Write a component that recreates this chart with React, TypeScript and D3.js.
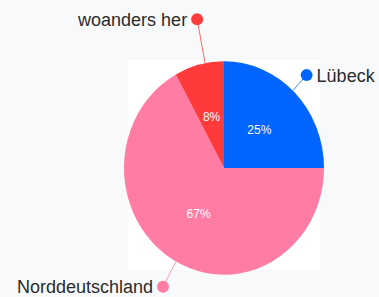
import { useEffect, useRef } from 'react';
import * as d3 from 'd3';

const labels = ['Lübeck', 'Norddeutschland', 'woanders her'];
const values = [25, 67, 8];
const colors = ['#0066ff', '#ff7ca4', '#ff3a3a'];

const App = () => {
  const ref = useRef<SVGSVGElement>(null);

  useEffect(() => {
    document.body.style.margin = '0';
    const svg = d3.select(ref.current);
    svg.selectAll('*').remove();

    const width = 379; const height = 297;
    const cx = 224; const cy = 168;
    const radius = 100; const stretch = 1.067; // picture is a bit taller than wide

    svg.append('rect').attr('width', width).attr('height', height).attr('fill', '#f8f9fa');
    svg.append('rect')
      .attr('x', 128).attr('y', 60)
      .attr('width', 192).attr('height', 210)
      .attr('fill', '#ffffff');

    const total = d3.sum(values);
    const pie = d3.pie<number>().sort(null).value(d => d);
    const arcs = pie(values);
    const arc = d3.arc<d3.PieArcDatum<number>>().innerRadius(0).outerRadius(radius);

    const g = svg.append('g')
      .attr('transform', `translate(${cx},${cy}) scale(1,${stretch})`);

    g.selectAll('path')
      .data(arcs)
      .enter()
      .append('path')
      .attr('d', arc)
      .attr('fill', (d, i) => colors[i]);

    // percentages, centred on each slice
    arcs.forEach((d, i) => {
      const [x, y] = arc.centroid(d);
      svg.append('text')
        .attr('x', cx + x)
        .attr('y', cy + y * stretch)
        .attr('dy', '0.35em')
        .attr('text-anchor', 'middle')
        .attr('font-family', 'Liberation Sans, Arial, sans-serif')
        .attr('font-size', 12)
        .attr('fill', '#ffffff')
        .text(Math.round((values[i] / total) * 100) + '%');
    });

    // outside labels: shift (deg) and radius for the dot
    const leader = [
      { shift: -1.5, r: 120 },
      { shift: -1.9, r: 127 },
      { shift: 3.5, r: 142 },
    ];

    const pt = (a: number, r: number) => [cx + r * Math.sin(a), cy - r * Math.cos(a) * stretch];

    arcs.forEach((d, i) => {
      const a = (d.startAngle + d.endAngle) / 2 + (leader[i].shift * Math.PI) / 180;
      const [x0, y0] = pt(a, radius);
      const [x1, y1] = pt(a, leader[i].r);
      const right = Math.sin(a) > 0;

      svg.append('line')
        .attr('x1', x0).attr('y1', y0)
        .attr('x2', x1).attr('y2', y1)
        .attr('stroke', colors[i])
        .attr('stroke-opacity', 0.75)
        .attr('stroke-width', 1);

      svg.append('circle')
        .attr('cx', x1).attr('cy', y1)
        .attr('r', 6)
        .attr('fill', colors[i]);

      svg.append('text')
        .attr('x', right ? x1 + 10 : x1 - 10)
        .attr('y', y1 + 6.5)
        .attr('text-anchor', right ? 'start' : 'end')
        .attr('font-family', 'Liberation Sans, Arial, sans-serif')
        .attr('font-size', 18)
        .attr('fill', '#2b2b2b')
        .text(labels[i]);
    });
  }, []);

  return (
    <svg ref={ref} width={379} height={297} style={{ display: 'block' }} />
  );
};

export default App;
